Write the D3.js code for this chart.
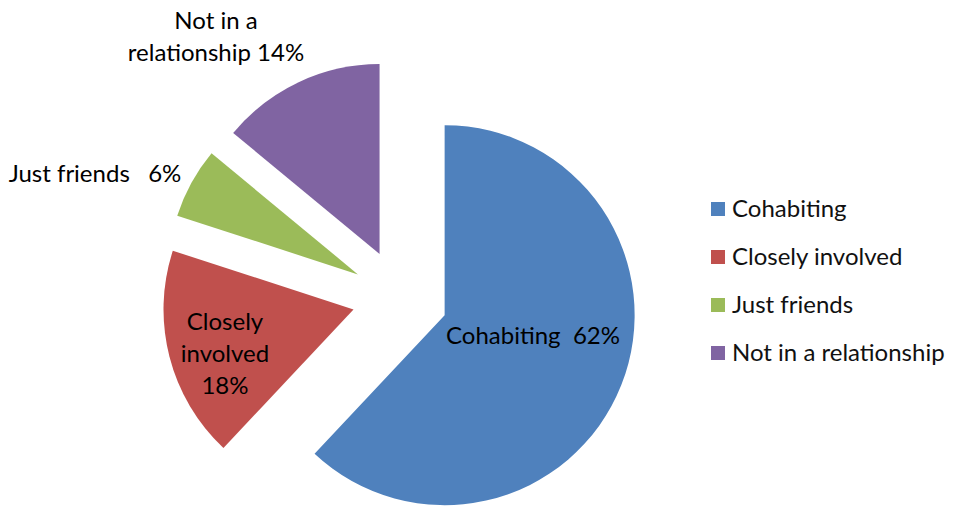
<!DOCTYPE html>
<html>
<head>
<meta charset="utf-8">
<script src="https://cdn.jsdelivr.net/npm/d3@7"></script>
<style>
  body { margin: 0; background: #fff; }
  text { font-family: Lato, "Open Sans", sans-serif; }
</style>
</head>
<body>
<script>
// data
const categories = ["Cohabiting", "Closely involved", "Just friends", "Not in a relationship"];
const values = [62, 18, 6, 14];
const colors = ["#4F81BD", "#C0504D", "#9BBB59", "#8064A2"];
// label text lines per slice (as shown on the chart)
const labelLines = [
    ["Cohabiting  62%"],
    ["Closely", "involved", "18%"],
    ["Just friends   6%"],
    ["Not in a", "relationship 14%"]
];

const width = 957, height = 509;
const cx = 400, cy = 297.5;   // pie centre before explode
const radius = 190;
const explode = 48;
const fontSize = 24;

// label anchor (centre x, first baseline y) - picked by eye
const labelPos = [
    [533, 344],
    [225, 330],
    [95, 182],
    [216, 29]
];
const lineGap = 32;

var svg = d3.select("body").append("svg")
    .attr("width", width)
    .attr("height", height);

const pie = d3.pie().sort(null).value(d => d);
const arc = d3.arc().innerRadius(0).outerRadius(radius);
const arcs = pie(values);

var g = svg.append("g").attr("transform", `translate(${cx},${cy})`);

g.selectAll("path")
    .data(arcs)
    .enter().append("path")
    .attr("d", arc)
    .attr("fill", (d, i) => colors[i])
    .attr("transform", d => {
        const mid = (d.startAngle + d.endAngle) / 2;
        return `translate(${explode * Math.sin(mid)},${-explode * Math.cos(mid)})`;
    });

// data labels
labelLines.forEach((lines, i) => {
    var t = svg.append("text")
        .attr("text-anchor", "middle")
        .attr("font-size", fontSize)
        .attr("fill", "#000");
    lines.forEach((ln, j) => {
        t.append("tspan")
            .attr("x", labelPos[i][0])
            .attr("y", labelPos[i][1] + j * lineGap)
            .style("white-space", "pre")
            .text(ln);
    });
});

// legend
var legend = svg.append("g").attr("transform", "translate(711,209)");
var rows = legend.selectAll("g")
    .data(categories)
    .enter().append("g")
    .attr("transform", (d, i) => `translate(0,${i * 48})`);

rows.append("rect")
    .attr("x", 0)
    .attr("y", -7)
    .attr("width", 14)
    .attr("height", 14)
    .attr("fill", (d, i) => colors[i]);

rows.append("text")
    .attr("x", 21)
    .attr("y", 8)
    .attr("font-size", fontSize)
    .attr("fill", "#111")
    .text(d => d);
</script>
</body>
</html>
